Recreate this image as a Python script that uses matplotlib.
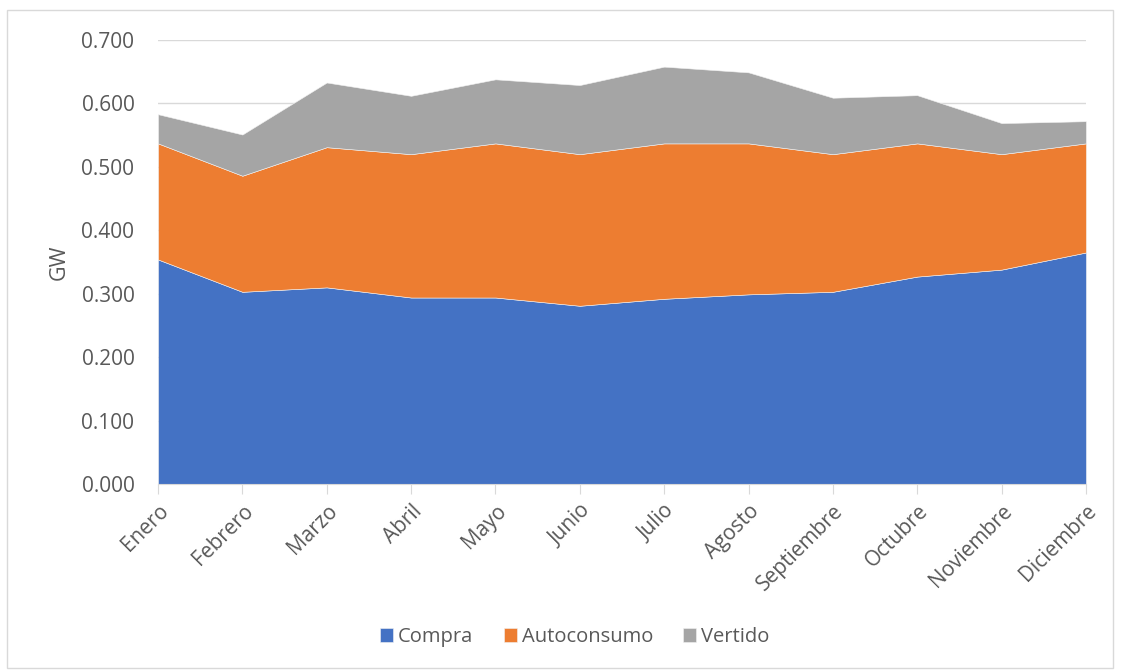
import matplotlib.pyplot as plt
from matplotlib.patches import Rectangle

plt.rcParams['font.family'] = ['Open Sans', 'DejaVu Sans']

meses = ['Enero', 'Febrero', 'Marzo', 'Abril', 'Mayo', 'Junio', 'Julio',
         'Agosto', 'Septiembre', 'Octubre', 'Noviembre', 'Diciembre']
compra = [0.354, 0.303, 0.310, 0.294, 0.294, 0.281, 0.292, 0.299, 0.303, 0.327, 0.338, 0.365]
autoconsumo = [0.183, 0.183, 0.221, 0.226, 0.243, 0.239, 0.245, 0.238, 0.217, 0.210, 0.182, 0.172]
vertido = [0.046, 0.065, 0.102, 0.092, 0.101, 0.109, 0.121, 0.112, 0.089, 0.076, 0.049, 0.035]
colores = ['#4472C4', '#ED7D31', '#A5A5A5']
yticks = [0.0, 0.1, 0.2, 0.3, 0.4, 0.5, 0.6, 0.7]

gris = '#595959'
fig = plt.figure(figsize=(11.23, 6.7), dpi=100)
ax = fig.add_axes([0.1407, 0.2776, 0.967 - 0.1407, 0.9403 - 0.2776])

x = list(range(len(meses)))
ax.stackplot(x, compra, autoconsumo, vertido, colors=colores,
             labels=['Compra', 'Autoconsumo', 'Vertido'],
             edgecolor='#f2f2f2', linewidth=0.4, zorder=2)

ax.set_xlim(0, len(meses) - 1)
ax.set_ylim(0, 0.7)
ax.set_yticks(yticks)
ax.set_yticklabels(['%.3f' % v for v in yticks])
ax.yaxis.grid(True, color='#D9D9D9', linewidth=1)
ax.set_axisbelow(True)
ax.set_xticks(x)
ax.set_xticklabels(meses, rotation=45, ha='right', rotation_mode='anchor')

for s in ['top', 'right', 'left']:
    ax.spines[s].set_visible(False)
ax.spines['bottom'].set_color('#D9D9D9')
ax.spines['bottom'].set_zorder(3)
ax.tick_params(axis='y', length=0, pad=17, labelsize=15, labelcolor=gris)
ax.tick_params(axis='x', length=7, color='#D9D9D9', pad=5, labelsize=15, labelcolor=gris)

ax.set_ylabel('GW', fontsize=15.5, color=gris)
ax.yaxis.set_label_coords(-0.095, 0.50)

leg = fig.legend(loc='center', bbox_to_anchor=(0.512, 1 - 637 / 670), ncol=3,
                 frameon=False, fontsize=14.5, handlelength=0.65, handleheight=0.65,
                 handletextpad=0.25, columnspacing=1.5)
for t in leg.get_texts():
    t.set_color(gris)

# marco del grafico
fig.patches.append(Rectangle((7 / 1123, 2 / 670), 1106 / 1123, 658 / 670,
                             transform=fig.transFigure, fill=False,
                             edgecolor='#D9D9D9', linewidth=1))

fig.savefig('out.png', dpi=100)
